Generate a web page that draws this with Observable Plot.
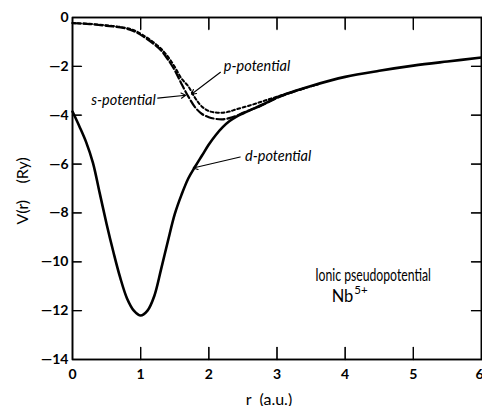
<!DOCTYPE html>
<html><head><meta charset="utf-8">
<script src="https://cdn.jsdelivr.net/npm/d3@7"></script>
<script src="https://cdn.jsdelivr.net/npm/@observablehq/plot@0.6"></script>
<style>body{margin:0;background:#fff} svg{display:block}</style>
</head><body><div id="chart"></div>
<script>
// d-potential (solid)
const dR = [0.0,0.1,0.2,0.3,0.4,0.5,0.6,0.7,0.8,0.9,1.0,1.1,1.2,1.3,1.4,1.5,1.6,1.7,1.8,1.9,2.0,2.1,2.2,2.3,2.4,2.5,2.6,2.8,3.0,3.25,3.5,4.0,4.5,5.0,5.5,6.0];
const dV = [-3.85,-4.45,-5.1,-5.95,-7.2,-8.45,-9.6,-10.65,-11.5,-12.0,-12.2,-12.0,-11.4,-10.3,-9.15,-8.05,-7.25,-6.58,-6.1,-5.65,-5.2,-4.82,-4.5,-4.25,-4.07,-3.93,-3.8,-3.55,-3.27,-3.02,-2.8,-2.43,-2.18,-1.97,-1.8,-1.64];
// s-potential (long dashes)
const sR = [0.0,0.25,0.5,0.75,0.9,1.05,1.2,1.3,1.4,1.5,1.6,1.7,1.8,1.9,2.0,2.1,2.2,2.3,2.4,2.5,2.7,2.9,3.1,3.4];
const sV = [-0.23,-0.27,-0.34,-0.43,-0.56,-0.8,-1.1,-1.35,-1.72,-2.16,-2.72,-3.24,-3.68,-3.95,-4.08,-4.15,-4.17,-4.12,-4.03,-3.9,-3.69,-3.43,-3.18,-2.9];
// p-potential (short dashes)
const pR = [0.0,0.25,0.5,0.75,0.9,1.05,1.2,1.3,1.4,1.5,1.6,1.7,1.8,1.9,2.0,2.1,2.2,2.3,2.4,2.6,2.8,3.0,3.3,3.6];
const pV = [-0.23,-0.26,-0.32,-0.41,-0.52,-0.75,-1.04,-1.28,-1.6,-2.02,-2.5,-2.82,-3.3,-3.65,-3.83,-3.89,-3.9,-3.85,-3.76,-3.6,-3.42,-3.24,-2.98,-2.74];

const xDomain = [0, 6];
const yDomain = [-14, 0];
const xTicks = [0,1,2,3,4,5];
const xLast = [6];
const yTicks = [0,-2,-4,-6,-8,-10,-12,-14];
const xInner = [1,2,3,4,5];
const yInner = [-2,-4,-6,-8,-10,-12];
const yLabel = {t: "V(r)\u00a0\u00a0\u00a0\u00a0(Ry)", r: 0, v: -7.1};
const xLabel = {t: "r\u00a0\u00a0(a.u.)", r: 3, v: -14};

// annotations (data units)
const pLabel = {t: "p-potential", r: 2.22, v: -1.99};
const sLabel = {t: "s-potential", r: 1.22, v: -3.38};
const dLabel = {t: "d-potential", r: 2.53, v: -5.7};
const arrowR1 = [2.17,1.25,2.46];
const arrowV1 = [-2.24,-3.3,-5.71];
const arrowR2 = [1.745,1.66,1.77];
const arrowV2 = [-3.14,-3.18,-6.16];
const title = {t: "Ionic pseudopotential", r: 4.41, v: -10.55};
const ion = {t: "Nb", sup: "5+", r: 4.12, v: -11.45};

const W = 482, H = 406, mt = 17, mb = 47, ml = 72, mr = 1;
const innerH = H - mt - mb, innerW = W - ml - mr;

const zip = (R, V) => R.map((r, i) => ({r, v: V[i]}));
const arrows = arrowR1.map((r, i) => ({r1: r, v1: arrowV1[i], r2: arrowR2[i], v2: arrowV2[i]}));
const boxR = [xDomain[0], xDomain[1], xDomain[1], xDomain[0], xDomain[0]];
const boxV = [yDomain[1], yDomain[1], yDomain[0], yDomain[0], yDomain[1]];
const font = "Lato, 'DejaVu Sans', sans-serif";
const tickShape = {draw(context, l) { context.moveTo(0, 0); context.lineTo(0, -l); }};
const tickOpts = {length: 12, anchor: "start", shape: tickShape, stroke: "black", strokeWidth: 1.3};

const chart = Plot.plot({
  width: W, height: H,
  marginTop: mt, marginBottom: mb, marginLeft: ml, marginRight: mr,
  x: {domain: xDomain},
  y: {domain: yDomain},
  style: {fontFamily: font, color: "black"},
  marks: [
    Plot.axisX(xTicks, {tickSize: 0, tickPadding: 10, fontSize: 14, fontWeight: "bold", tickFormat: d => String(d), label: null}),
    Plot.axisX(xLast, {tickSize: 0, tickPadding: 10, fontSize: 14, fontWeight: "bold", textAnchor: "end", dx: 2, tickFormat: d => String(d), label: null}),
    Plot.axisY(yTicks, {tickSize: 0, tickPadding: 4, fontSize: 14, fontWeight: "bold",
      tickFormat: d => d === 0 ? "0" : "\u2014" + Math.abs(d), label: null}),
    Plot.text([yLabel], {x: "r", y: "v", text: "t", dx: -50, rotate: -90, fontSize: 16}),
    Plot.text([xLabel], {x: "r", y: "v", text: "t", dx: -8, dy: 40, fontSize: 16}),
    Plot.line(zip(dR, dV), {x: "r", y: "v", curve: "catmull-rom", stroke: "black", strokeWidth: 2.6}),
    Plot.line(zip(boxR, boxV), {x: "r", y: "v", curve: "linear", stroke: "black", strokeWidth: 1.6}),
    Plot.line(zip(sR, sV), {x: "r", y: "v", curve: "catmull-rom", stroke: "black", strokeWidth: 2.2, strokeDasharray: "8,3"}),
    Plot.line(zip(pR, pV), {x: "r", y: "v", curve: "catmull-rom", stroke: "black", strokeWidth: 2, strokeDasharray: "3,2.5"}),
    Plot.arrow(arrows, {x1: "r1", y1: "v1", x2: "r2", y2: "v2", stroke: "black", strokeWidth: 1.1, headLength: 7}),
    Plot.text([pLabel, dLabel], {x: "r", y: "v", text: "t", textAnchor: "start", fontStyle: "italic", fontSize: 14.5}),
    Plot.text([sLabel], {x: "r", y: "v", text: "t", textAnchor: "end", fontStyle: "italic", fontSize: 14.5}),
    Plot.text([title], {x: "r", y: "v", text: "t", fontSize: 16.5}),
    Plot.text([ion], {x: "r", y: "v", text: "t", textAnchor: "end", fontSize: 16.5}),
    Plot.text([ion], {x: "r", y: "v", text: "sup", textAnchor: "start", dx: 1, dy: -7, fontSize: 11.5}),
    Plot.frame({stroke: "black", strokeWidth: 1.5}),
    Plot.tickX(xInner, {x: d => d, insetTop: innerH - 12, stroke: "black"}),
    Plot.tickX(xInner, {x: d => d, insetBottom: innerH - 12, stroke: "black"}),
    Plot.tickY(yInner, {y: d => d, insetRight: innerW - 9, stroke: "black"}),
    Plot.tickY(yInner, {y: d => d, insetLeft: innerW - 10, stroke: "black"}),
    Plot.vector(xInner, {...tickOpts, x: d => d, y: () => yDomain[0], rotate: 0}),
    Plot.vector(xInner, {...tickOpts, x: d => d, y: () => yDomain[1], rotate: 180}),
    Plot.vector(yInner, {...tickOpts, length: 9, x: () => xDomain[0], y: d => d, rotate: 90}),
    Plot.vector(yInner, {...tickOpts, length: 10, x: () => xDomain[1], y: d => d, rotate: -90})
  ]
});
d3.select(chart).selectAll("text").filter(function() { return this.textContent === title.t; })
  .attr("transform", function() { return (this.getAttribute("transform") || "") + " scale(0.74,1)"; });
document.getElementById("chart").appendChild(chart);
</script>
</body></html>
